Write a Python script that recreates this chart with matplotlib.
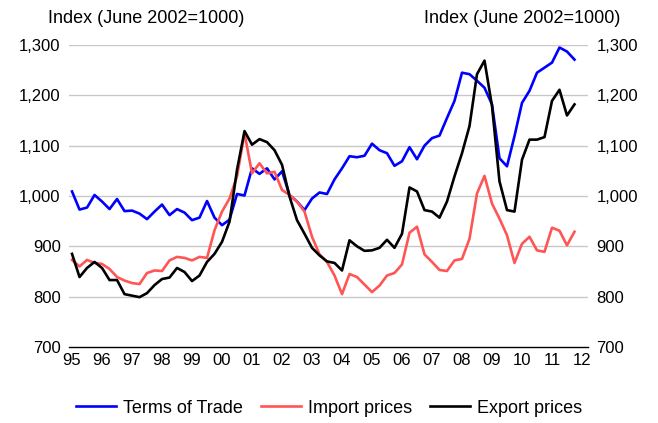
import numpy as np
import matplotlib
matplotlib.use("Agg")
import matplotlib.pyplot as plt

plt.rcParams['font.family'] = ['Liberation Sans', 'DejaVu Sans']

# quarterly index, 1995 Q1 - 2011 Q4 (June 2002 = 1000)
terms_of_trade = [
    1009, 973, 977, 1002, 989, 974, 994, 970, 971, 965, 954, 969,
    983, 962, 974, 967, 952, 957, 990, 957, 942, 953, 1004, 1001,
    1055, 1044, 1055, 1033, 1049, 1002, 989, 972, 995, 1007, 1004, 1033,
    1055, 1079, 1077, 1080, 1104, 1091, 1085, 1060, 1069, 1097, 1073, 1100,
    1115, 1120, 1155, 1189, 1245, 1242, 1229, 1215, 1182, 1075, 1059, 1119,
    1185, 1209, 1245, 1255, 1265, 1295, 1287, 1271,
]
import_prices = [
    873, 860, 873, 867, 865, 855, 839, 832, 827, 825, 847, 852,
    851, 872, 879, 877, 872, 879, 877, 932, 969, 995, 1039, 1125,
    1045, 1065, 1045, 1048, 1012, 1002, 989, 969, 919, 884, 869, 842,
    805, 845, 839, 824, 809, 822, 842, 847, 864, 927, 939, 884,
    869, 853, 851, 872, 875, 915, 1005, 1040, 985, 955, 922, 867,
    905, 919, 892, 889, 937, 931, 902, 929,
]
export_prices = [
    885, 839, 857, 869, 857, 833, 833, 805, 802, 799, 807, 823,
    835, 838, 857, 849, 831, 842, 869, 885, 909, 949, 1052, 1129,
    1102, 1113, 1107, 1091, 1062, 999, 952, 925, 897, 882, 870, 867,
    852, 912, 900, 891, 892, 897, 913, 897, 925, 1017, 1009, 972,
    969, 957, 989, 1039, 1085, 1139, 1242, 1269, 1179, 1029, 972, 969,
    1072, 1112, 1112, 1117, 1189, 1211, 1160, 1182,
]
years = list(range(1995, 2013))
year_labels = [f"{y % 100:02d}" for y in years]
y_ticks = [700, 800, 900, 1000, 1100, 1200, 1300]

t = 1995 + np.arange(len(terms_of_trade)) / 4.0

fig = plt.figure(figsize=(6.58, 4.23), dpi=100)
ax = fig.add_axes([0.1049, 0.1797, 0.7887, 0.7139])

ax.plot(t, terms_of_trade, color='#0000ff', lw=1.9, label='Terms of Trade')
ax.plot(t, import_prices, color='#ff5555', lw=1.9, label='Import prices')
ax.plot(t, export_prices, color='black', lw=1.9, label='Export prices')

ax.set_xlim(1994.9, 2012.2)
ax.set_ylim(700, 1300)
ax.set_yticks(y_ticks)
ax.set_yticklabels([f"{v:,}" for v in y_ticks])
ax.set_xticks(years)
ax.set_xticklabels(year_labels)

# horizontal gridlines (the 700 line is the axis itself)
for v in y_ticks[1:]:
    ax.axhline(v, color='#c8c8c8', lw=1.0, zorder=0)

for side in ['top', 'left', 'right']:
    ax.spines[side].set_visible(False)
ax.spines['bottom'].set_color('black')
ax.spines['bottom'].set_linewidth(1.0)

ax.tick_params(axis='y', length=0, labelsize=12, pad=6,
               labelleft=True, labelright=True)
ax.tick_params(axis='x', length=0, labelsize=12, pad=4)

fig.text(0.222, 0.957, 'Index (June 2002=1000)', fontsize=13,
         ha='center', va='center')
fig.text(0.793, 0.957, 'Index (June 2002=1000)', fontsize=13,
         ha='center', va='center')

fig.legend(loc='center', bbox_to_anchor=(0.5, 0.035), ncol=3, frameon=False,
           fontsize=13, handlelength=2.2, handletextpad=0.4,
           columnspacing=1.0)

fig.savefig('out.png', dpi=100)
